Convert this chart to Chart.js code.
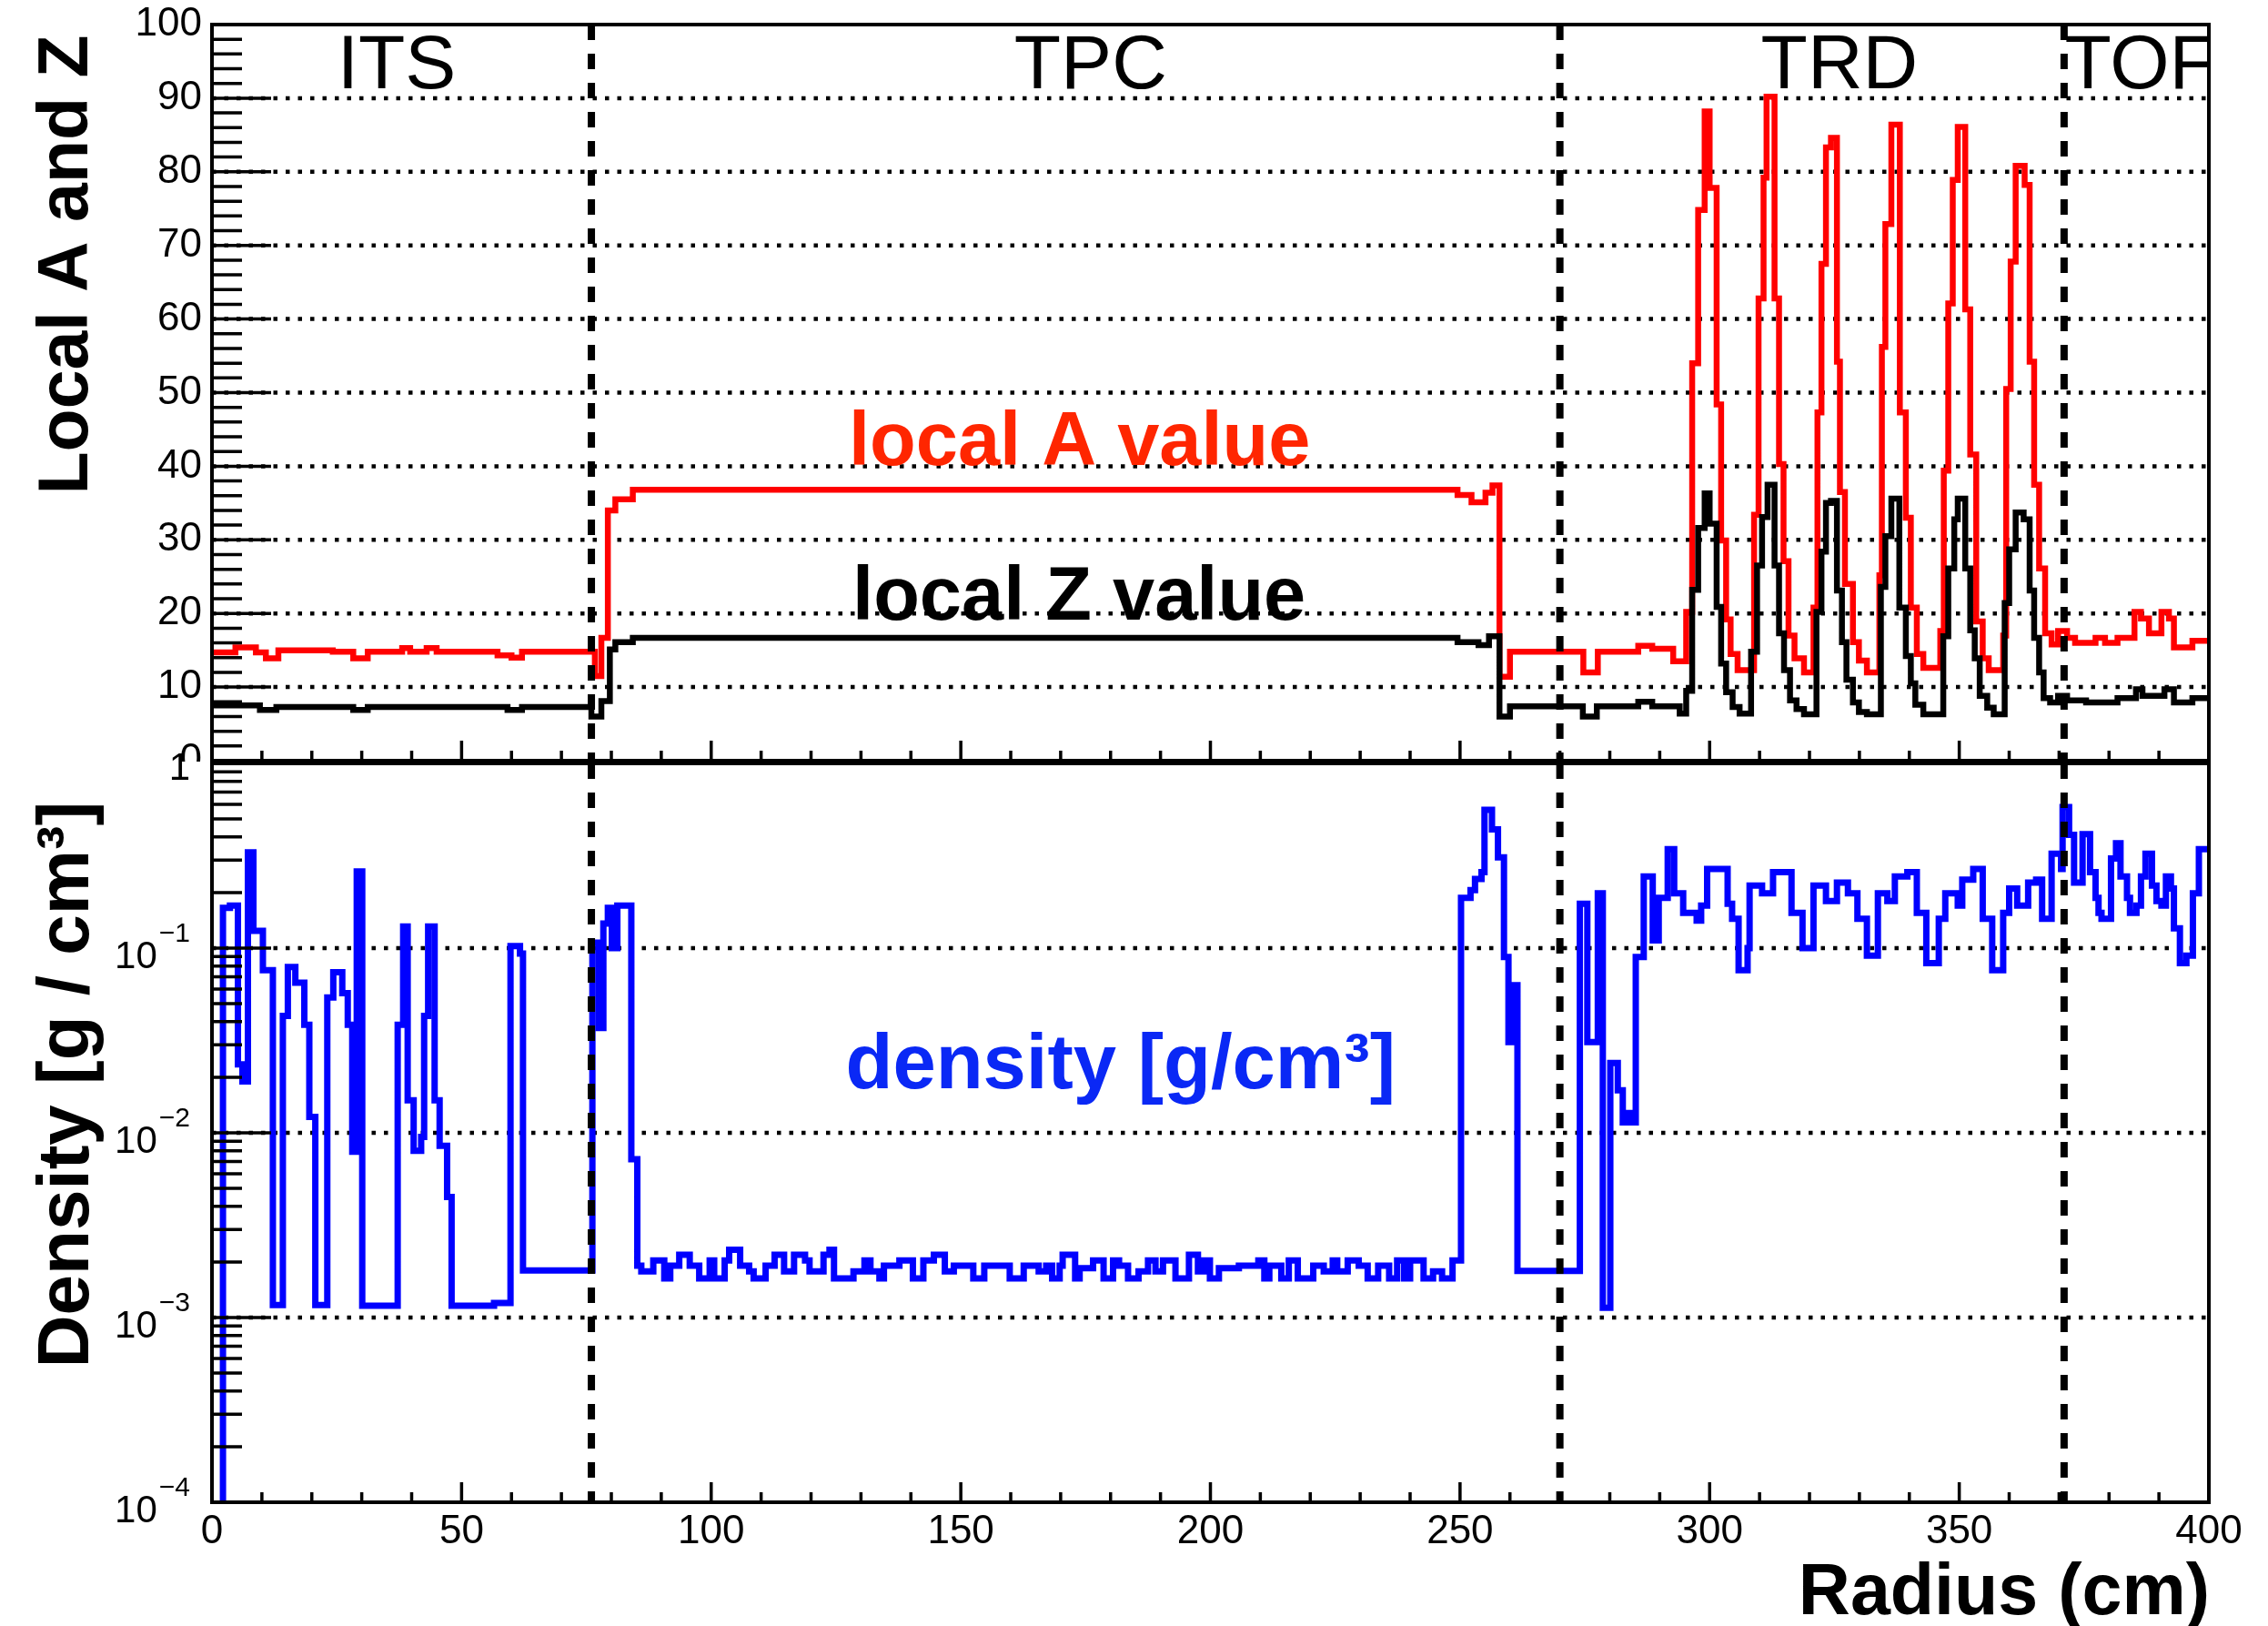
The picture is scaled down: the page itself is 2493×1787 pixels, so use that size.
<!DOCTYPE html>
<html>
<head>
<meta charset="utf-8">
<script src="https://cdn.jsdelivr.net/npm/chart.js@4.4.1/dist/chart.umd.min.js"></script>
<style>
  html, body { margin: 0; padding: 0; background: #fff; }
  #wrap { position: relative; width: 2493px; height: 1787px; }
  canvas { position: absolute; left: 0; }
  #top { top: 0; }
  #bot { top: 815px; }
</style>
</head>
<body>
<div id="wrap">
  <canvas id="top" width="2493" height="845"></canvas>
  <canvas id="bot" width="2493" height="972"></canvas>
</div>
<script>
var FONT = "'Liberation Sans', Arial, Helvetica, sans-serif";

// detector boundaries (cm) and where the names sit
var boundaries = [76, 270, 371];
var detectors = ['ITS', 'TPC', 'TRD', 'TOF'];
var detectorR = [37, 176, 326, 371.1];

// local A along the radius: each value holds from its radius to the next one
var aR = [
  0, 4.7, 8.8, 10.8, 13.3, 24.2, 28.3, 31.2, 38.1, 39.7,
  43.0, 45.0, 57.2, 60.0, 62.1, 76.7, 78.0, 79.3, 80.8, 84.3,
  249.5, 252.3, 255.1, 256.5, 257.9, 260.0, 274.7, 277.6, 285.7, 288.5,
  292.7, 295.3, 296.5, 297.7, 299.0, 300.0, 301.4, 302.3, 303.3, 304.2,
  305.6, 308.9, 309.8, 310.8, 311.4, 313.0, 313.9, 314.8, 315.8, 317.0,
  318.9, 320.8, 321.6, 322.4, 323.3, 324.3, 325.5, 326.1, 327.1, 328.7,
  329.9, 331.5, 334.0, 334.5, 335.2, 336.4, 338.1, 339.3, 340.3, 341.5,
  342.8, 346.2, 346.9, 347.8, 348.7, 349.7, 351.2, 352.2, 353.4, 354.7,
  355.9, 358.8, 359.4, 360.3, 361.3, 363.1, 364.1, 365.0, 366.0, 367.2,
  368.5, 369.8, 371.6, 373.2, 377.3, 379.2, 381.7, 385.1, 386.4, 388.0,
  390.5, 392.0, 393.0, 396.7
];
var aV = [
  14.7, 15.4, 14.7, 13.9, 15.0, 14.8, 13.9, 14.8, 15.3, 14.8,
  15.3, 14.8, 14.3, 14.0, 14.8, 11.5, 16.7, 34.0, 35.5, 36.8,
  36.1, 35.1, 36.4, 37.4, 11.4, 14.8, 12.0, 14.8, 15.6, 15.2,
  13.5, 20.2, 54.0, 74.8, 88.2, 77.8, 48.4, 29.9, 19.2, 14.5,
  12.3, 33.4, 62.8, 79.2, 90.2, 62.8, 40.3, 27.1, 17.0, 13.9,
  12.0, 20.8, 47.3, 67.5, 83.3, 84.6, 54.2, 36.5, 24.0, 16.1,
  13.6, 12.0, 25.2, 56.2, 72.9, 86.4, 47.3, 33.0, 20.8, 14.5,
  12.6, 17.6, 39.4, 62.1, 78.9, 86.1, 61.3, 41.6, 18.9, 13.9,
  12.3, 17.0, 50.5, 67.8, 80.8, 78.2, 54.2, 37.5, 26.1, 17.3,
  15.8, 17.6, 16.7, 16.0, 16.7, 16.0, 16.7, 20.2, 19.3, 17.3,
  20.2, 19.3, 15.4, 16.3
];

// local Z
var zR = [
  0, 9.6, 12.9, 28.3, 31.2, 59.2, 62.1, 76.0, 78.0, 79.7,
  80.8, 84.3, 249.5, 253.7, 255.8, 257.9, 260.0, 274.6, 277.4, 285.7,
  288.5, 294.0, 295.3, 296.5, 297.7, 299.0, 300.0, 301.4, 302.3, 303.3,
  304.6, 306.0, 308.3, 309.5, 310.5, 311.6, 313.0, 313.9, 314.9, 316.1,
  317.4, 318.9, 321.4, 322.4, 323.3, 324.3, 325.5, 326.5, 327.4, 328.7,
  329.9, 331.5, 334.3, 335.2, 336.4, 338.0, 339.3, 340.3, 341.2, 342.8,
  346.8, 347.8, 349.0, 349.7, 351.2, 352.2, 353.1, 354.1, 355.6, 356.9,
  359.1, 360.0, 361.3, 362.9, 364.1, 365.0, 366.0, 366.9, 368.2, 369.8,
  371.6, 375.4, 381.7, 385.4, 386.7, 391.1, 393.0, 396.7
];
var zV = [
  7.5, 6.9, 7.3, 6.9, 7.3, 6.9, 7.3, 6.0, 8.1, 15.1,
  16.1, 16.7, 16.1, 15.7, 16.9, 6.0, 7.4, 6.0, 7.4, 8.0,
  7.4, 6.4, 9.5, 23.2, 31.6, 36.3, 32.2, 20.9, 13.2, 9.3,
  7.3, 6.4, 14.8, 26.5, 33.1, 37.5, 26.5, 17.3, 12.3, 8.2,
  7.0, 6.3, 20.2, 28.4, 35.0, 35.3, 23.1, 16.1, 11.0, 7.9,
  6.6, 6.3, 23.6, 30.5, 35.6, 20.8, 14.2, 10.5, 7.6, 6.3,
  16.9, 26.1, 32.8, 35.6, 26.1, 17.7, 13.9, 8.8, 7.2, 6.3,
  21.4, 28.7, 33.7, 32.8, 23.1, 16.7, 12.0, 8.5, 7.9, 8.8,
  8.2, 7.9, 8.5, 9.7, 8.8, 9.7, 7.9, 8.5
];

// density in g/cm3
var rhoR = [
  0, 2.2, 3.6, 5.2, 6.1, 7.2, 8.3, 10.2, 12.2, 14.2,
  15.2, 16.7, 18.5, 19.5, 20.7, 23.1, 24.3, 26.1, 27.2, 28.1,
  29.0, 30.1, 37.2, 38.3, 39.2, 40.4, 41.9, 42.5, 43.3, 44.6,
  45.6, 47.1, 48.0, 56.5, 59.8, 61.7, 62.3, 76.2, 77.5, 78.4,
  79.3, 80.1, 81.2, 84.0, 85.2, 86.0, 88.4, 90.6, 91.8, 93.6,
  95.7, 97.6, 99.7, 100.6, 102.7, 103.6, 105.8, 107.6, 108.5, 110.9,
  112.7, 114.6, 116.6, 118.8, 119.7, 122.5, 123.7, 124.6, 128.5, 130.7,
  131.9, 133.7, 134.6, 137.7, 140.4, 142.5, 144.6, 146.8, 148.6, 152.5,
  154.7, 159.8, 162.6, 165.6, 167.1, 168.3, 169.8, 170.4, 172.9, 173.8,
  176.5, 178.6, 180.5, 181.7, 183.5, 185.6, 187.5, 189.0, 190.5, 193.0,
  195.7, 197.5, 198.7, 199.9, 201.7, 205.7, 209.6, 210.8, 211.8, 214.2,
  215.7, 217.5, 220.6, 222.7, 224.5, 225.4, 227.5, 229.7, 231.5, 233.6,
  235.8, 237.4, 238.8, 240.0, 242.7, 244.6, 246.4, 248.5, 250.2, 252.1,
  253.0, 254.3, 254.9, 256.4, 257.6, 258.8, 259.7, 260.6, 261.5, 274.0,
  275.5, 277.6, 278.6, 280.1, 281.6, 282.6, 283.6, 284.3, 285.2, 286.8,
  288.6, 289.8, 291.6, 292.9, 294.7, 297.4, 298.3, 299.5, 303.6, 304.5,
  305.8, 307.6, 308.0, 310.5, 312.7, 316.4, 318.6, 320.8, 323.3, 325.5,
  327.7, 329.6, 331.5, 333.7, 335.6, 337.1, 339.6, 341.5, 343.4, 345.9,
  347.2, 349.7, 350.6, 352.8, 354.7, 356.6, 358.8, 360.0, 361.6, 363.8,
  365.4, 366.6, 368.5, 370.4, 370.7, 372.0, 373.0, 374.7, 376.2, 377.3,
  377.9, 378.5, 380.4, 381.4, 382.3, 383.6, 384.2, 385.5, 386.4, 387.3,
  388.6, 389.5, 390.5, 391.4, 392.4, 393.0, 394.2, 395.5, 396.8, 398.0
];
var rhoV = [
  1e-5, 0.165, 0.17, 0.0235, 0.019, 0.33, 0.124, 0.076, 0.00117, 0.043,
  0.079, 0.065, 0.0385, 0.0122, 0.00117, 0.054, 0.074, 0.057, 0.0385, 0.0079,
  0.26, 0.00116, 0.0385, 0.131, 0.015, 0.008, 0.0095, 0.043, 0.131, 0.015,
  0.0085, 0.0045, 0.00116, 0.0012, 0.1026, 0.0934, 0.0018, 0.107, 0.037, 0.136,
  0.165, 0.1, 0.17, 0.0072, 0.00191, 0.00178, 0.00204, 0.00163, 0.00191, 0.00219,
  0.00191, 0.00163, 0.00204, 0.00163, 0.00204, 0.00233, 0.00191, 0.00178, 0.00163, 0.00191,
  0.00219, 0.00178, 0.00219, 0.00204, 0.00178, 0.00219, 0.00233, 0.00163, 0.00178, 0.00204,
  0.00178, 0.00163, 0.00191, 0.00204, 0.00163, 0.00204, 0.00219, 0.00178, 0.00191, 0.00163,
  0.00191, 0.00163, 0.00191, 0.00178, 0.00191, 0.00163, 0.00191, 0.00219, 0.00163, 0.00185,
  0.00204, 0.00163, 0.00204, 0.00191, 0.00163, 0.00178, 0.00204, 0.00178, 0.00204, 0.00163,
  0.00219, 0.00178, 0.00204, 0.00163, 0.00185, 0.00191, 0.00204, 0.00163, 0.00191, 0.00163,
  0.00204, 0.00163, 0.00191, 0.00178, 0.00204, 0.00178, 0.00204, 0.00191, 0.00163, 0.00191,
  0.00163, 0.00204, 0.00163, 0.00204, 0.00163, 0.00178, 0.00163, 0.00204, 0.187, 0.206,
  0.237, 0.258, 0.56, 0.44, 0.31, 0.0895, 0.031, 0.063, 0.00179, 0.174,
  0.031, 0.198, 0.00113, 0.0239, 0.017, 0.0114, 0.0128, 0.0114, 0.0895, 0.244,
  0.11, 0.187, 0.343, 0.198, 0.155, 0.141, 0.17, 0.268, 0.174, 0.144,
  0.076, 0.1, 0.218, 0.198, 0.258, 0.155, 0.1, 0.218, 0.18, 0.226,
  0.198, 0.144, 0.091, 0.198, 0.18, 0.244, 0.258, 0.155, 0.083, 0.144,
  0.198, 0.17, 0.235, 0.268, 0.144, 0.076, 0.155, 0.21, 0.17, 0.226,
  0.235, 0.144, 0.324, 0.268, 0.58, 0.41, 0.226, 0.414, 0.258, 0.187,
  0.155, 0.144, 0.306, 0.37, 0.244, 0.187, 0.155, 0.17, 0.244, 0.324,
  0.218, 0.18, 0.17, 0.244, 0.21, 0.128, 0.083, 0.091, 0.198, 0.343
];

var decades = [1e-4, 1e-3, 1e-2, 1e-1, 1];

// histogram bins -> points for a stepped line, closed at 400 cm
function toSteps(edges, vals) {
  var pts = edges.map(function(r, i) { return { x: r, y: vals[i] }; });
  pts.push({ x: 400, y: vals[vals.length - 1] });
  return pts;
}

function histLine(pts, color, width) {
  return {
    data: pts,
    borderColor: color,
    borderWidth: width,
    stepped: 'before',
    pointRadius: 0,
    fill: false,
    borderJoinStyle: 'miter',
    borderCapStyle: 'butt'
  };
}

function dottedGrid(ctx, a, ys, values) {
  ctx.save();
  ctx.strokeStyle = '#000';
  ctx.lineWidth = 4.5;
  ctx.setLineDash([4.5, 9]);
  ctx.beginPath();
  values.forEach(function(v) {
    var py = ys.getPixelForValue(v);
    ctx.moveTo(a.left, py);
    ctx.lineTo(a.right, py);
  });
  ctx.stroke();
  ctx.restore();
}

function boundaryLines(ctx, a, xs) {
  ctx.save();
  ctx.strokeStyle = '#000';
  ctx.lineWidth = 8;
  ctx.setLineDash([17, 15]);
  ctx.beginPath();
  boundaries.forEach(function(r) {
    var px = xs.getPixelForValue(r);
    ctx.moveTo(px, a.top);
    ctx.lineTo(px, a.bottom);
  });
  ctx.stroke();
  ctx.restore();
}

// ticks pointing into the pad, then the frame
function frameAndTicks(ctx, a, xs, ys, yTicks) {
  ctx.save();
  ctx.strokeStyle = '#000';
  ctx.lineWidth = 3.5;
  ctx.beginPath();
  for (var r = 0; r <= 400; r += 10) {
    var px = xs.getPixelForValue(r);
    ctx.moveTo(px, a.bottom);
    ctx.lineTo(px, a.bottom - (r % 50 === 0 ? 22 : 11));
  }
  yTicks.forEach(function(t) {
    var py = ys.getPixelForValue(t.v);
    ctx.moveTo(a.left, py);
    ctx.lineTo(a.left + t.len, py);
  });
  ctx.stroke();
  ctx.lineWidth = 4;
  ctx.strokeRect(a.left, a.top, a.right - a.left, a.bottom - a.top);
  ctx.restore();
}

var topTicks = [];
for (var t = 0; t <= 100; t += 2) {
  topTicks.push({ v: t, len: t % 10 === 0 ? 65 : 33 });
}
var logTicks = [{ v: 1, len: 65 }];
for (var d = -4; d < 0; d++) {
  for (var m = 1; m <= 9; m++) {
    logTicks.push({ v: m * Math.pow(10, d), len: m === 1 ? 65 : 33 });
  }
}

var topPanel = {
  id: 'topPanel',
  beforeDatasetsDraw: function(chart) {
    dottedGrid(chart.ctx, chart.chartArea, chart.scales.y, [10, 20, 30, 40, 50, 60, 70, 80, 90]);
  },
  afterDatasetsDraw: function(chart) {
    var ctx = chart.ctx, a = chart.chartArea, xs = chart.scales.x, ys = chart.scales.y;
    boundaryLines(ctx, a, xs);
    frameAndTicks(ctx, a, xs, ys, topTicks);

    ctx.save();
    ctx.beginPath();
    ctx.rect(a.left, a.top, a.right - a.left, a.bottom - a.top);
    ctx.clip();
    ctx.fillStyle = '#000';
    ctx.font = '84px ' + FONT;
    ctx.textBaseline = 'alphabetic';
    detectors.forEach(function(name, i) {
      ctx.textAlign = i === detectors.length - 1 ? 'left' : 'center';
      ctx.fillText(name, xs.getPixelForValue(detectorR[i]), a.top + 70);
    });
    ctx.restore();

    ctx.save();
    ctx.font = 'bold 83px ' + FONT;
    ctx.textAlign = 'center';
    ctx.textBaseline = 'alphabetic';
    ctx.fillStyle = '#ff2600';
    ctx.fillText('local A value', xs.getPixelForValue(173.8), ys.getPixelForValue(40.2));
    ctx.fillStyle = '#000';
    ctx.fillText('local Z value', xs.getPixelForValue(173.7), ys.getPixelForValue(19.2));
    ctx.restore();
  },
  afterDraw: function(chart) {
    var ctx = chart.ctx;
    ctx.save();
    ctx.translate(96, 291);
    ctx.rotate(-Math.PI / 2);
    ctx.font = 'bold 77px ' + FONT;
    ctx.fillStyle = '#000';
    ctx.textAlign = 'center';
    ctx.fillText('Local A and Z', 0, 0);
    ctx.restore();
  }
};

var botPanel = {
  id: 'botPanel',
  beforeDraw: function(chart) {
    // the lower pad hides what spills over from the upper one
    var a = chart.chartArea;
    chart.ctx.save();
    chart.ctx.fillStyle = '#fff';
    chart.ctx.fillRect(0, a.top - 2, a.left - 2, 60);
    chart.ctx.restore();
  },
  beforeDatasetsDraw: function(chart) {
    dottedGrid(chart.ctx, chart.chartArea, chart.scales.y, [1e-3, 1e-2, 1e-1]);
  },
  afterDatasetsDraw: function(chart) {
    var ctx = chart.ctx, a = chart.chartArea, xs = chart.scales.x, ys = chart.scales.y;
    boundaryLines(ctx, a, xs);
    frameAndTicks(ctx, a, xs, ys, logTicks);

    ctx.save();
    ctx.font = 'bold 85px ' + FONT;
    ctx.textAlign = 'center';
    ctx.fillStyle = '#0a28f5';
    ctx.fillText('density [g/cm\u00b3]', xs.getPixelForValue(182), ys.getPixelForValue(0.0174));
    ctx.restore();
  },
  afterDraw: function(chart) {
    var ctx = chart.ctx, ys = chart.scales.y;
    ctx.save();
    ctx.fillStyle = '#000';
    ctx.textAlign = 'right';
    ctx.textBaseline = 'alphabetic';
    decades.forEach(function(v) {
      var py = ys.getPixelForValue(v);
      var e = Math.round(Math.log10(v));
      if (e === 0) {
        ctx.font = '42px ' + FONT;
        ctx.fillText('1', 209, py + 18);
        return;
      }
      var exp = '\u2212' + (-e);
      ctx.font = '30px ' + FONT;
      var w = ctx.measureText(exp).width;
      ctx.fillText(exp, 209, py - 7);
      ctx.font = '42px ' + FONT;
      ctx.fillText('10', 209 - w - 2, py + 22);
    });
    ctx.restore();

    ctx.save();
    ctx.fillStyle = '#000';
    ctx.font = 'bold 80px ' + FONT;
    ctx.textAlign = 'center';
    ctx.translate(97, 377);
    ctx.rotate(-Math.PI / 2);
    ctx.fillText('Density [g / cm\u00b3]', 0, 0);
    ctx.restore();

    ctx.save();
    ctx.fillStyle = '#000';
    ctx.font = 'bold 79px ' + FONT;
    ctx.textAlign = 'right';
    ctx.fillText('Radius (cm)', 2429, 959);
    ctx.restore();
  }
};

var tickFont = { family: FONT, size: 44 };

new Chart(document.getElementById('top'), {
  type: 'line',
  data: {
    datasets: [
      histLine(toSteps(zR, zV), '#000000', 6.5),
      histLine(toSteps(aR, aV), '#ff0000', 6.5)
    ]
  },
  options: {
    responsive: false,
    animation: false,
    devicePixelRatio: 1,
    layout: { padding: { left: 0, right: 65, top: 27, bottom: 9 }, autoPadding: false },
    plugins: { legend: { display: false }, tooltip: { enabled: false } },
    scales: {
      x: { type: 'linear', min: 0, max: 400, display: false },
      y: {
        type: 'linear', min: 0, max: 100,
        ticks: { stepSize: 10, padding: 11, color: '#000', font: tickFont },
        grid: { display: false, drawTicks: false, tickLength: 0 },
        border: { display: false },
        afterFit: function(s) { s.width = 233; s.paddingTop = 0; s.paddingBottom = 0; }
      }
    }
  },
  plugins: [topPanel]
});

new Chart(document.getElementById('bot'), {
  type: 'line',
  data: {
    datasets: [histLine(toSteps(rhoR, rhoV), '#0000ff', 7)]
  },
  options: {
    responsive: false,
    animation: false,
    devicePixelRatio: 1,
    layout: { padding: { left: 0, right: 65, top: 24, bottom: 0 }, autoPadding: false },
    plugins: { legend: { display: false }, tooltip: { enabled: false } },
    scales: {
      x: {
        type: 'linear', min: 0, max: 400,
        ticks: { stepSize: 50, padding: 6, color: '#000', font: tickFont, maxRotation: 0, autoSkip: false },
        grid: { display: false, drawTicks: false, tickLength: 0 },
        border: { display: false },
        afterFit: function(s) { s.height = 136; s.paddingLeft = 0; s.paddingRight = 0; }
      },
      y: {
        type: 'logarithmic', min: 1e-4, max: 1,
        ticks: { display: false },
        afterBuildTicks: function(s) { s.ticks = decades.map(function(v) { return { value: v }; }); },
        grid: { display: false, drawTicks: false, tickLength: 0 },
        border: { display: false },
        afterFit: function(s) { s.width = 233; s.paddingTop = 0; s.paddingBottom = 0; }
      }
    }
  },
  plugins: [botPanel]
});
</script>
</body>
</html>
